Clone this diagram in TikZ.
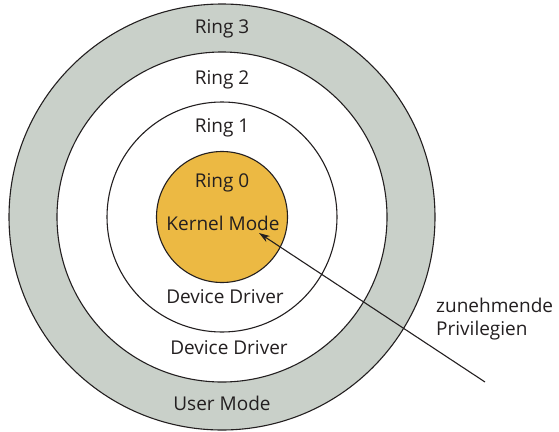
\documentclass[tikz,border=0pt]{standalone}
\usepackage{fontspec}
\setmainfont{Open Sans}
\usetikzlibrary{arrows.meta}
\definecolor{ringgray}{HTML}{C9D0C9}
\definecolor{kernelorange}{HTML}{ECB943}
\definecolor{textdark}{HTML}{231F20}
\begin{document}
\begin{tikzpicture}[x=1pt,y=-1pt,
  ring/.style={circle, draw=textdark, line width=1.1pt, inner sep=0pt},
  lbl/.style={text=textdark, font=\fontsize{19}{24}\selectfont, inner sep=0pt, anchor=center},
  note/.style={text=textdark, font=\fontsize{19}{24}\selectfont, inner sep=0pt, anchor=west}]
  \useasboundingbox (0,0) rectangle (559,431);
  \coordinate (c) at (222,217);
  % concentric privilege rings, outermost first
  \node[ring, fill=ringgray, minimum size=426pt] (r3) at (c) {};
  \node[ring, fill=white, minimum size=330pt] (r2) at (c) {};
  \node[ring, fill=white, minimum size=230pt] (r1) at (c) {};
  \node[ring, fill=kernelorange, minimum size=131pt] (r0) at (c) {};
  % ring labels
  \node[lbl] (t3) at (222,29) {Ring 3};
  \node[lbl] (t2) at (222,80) {Ring 2};
  \node[lbl] (t1) at (222,128) {Ring 1};
  \node[lbl] (t0) at (222,183) {Ring 0};
  \node[lbl] (km) at (223,223) {Kernel Mode};
  \node[lbl] (dd1) at (225,297) {Device Driver};
  \node[lbl] (dd2) at (229,348) {Device Driver};
  \node[lbl] (um) at (222,403) {User Mode};
  % privilege arrow
  \node[note] (z1) at (436,305) {zunehmende};
  \node[note] (z2) at (436,331) {Privilegien};
  \coordinate (tail) at (485,382);
  \coordinate (tip) at (259,233);
  \draw[textdark, line width=1.1pt, -{Stealth[length=11pt,width=7pt]}] (tail) -- (tip);
\end{tikzpicture}
\end{document}
